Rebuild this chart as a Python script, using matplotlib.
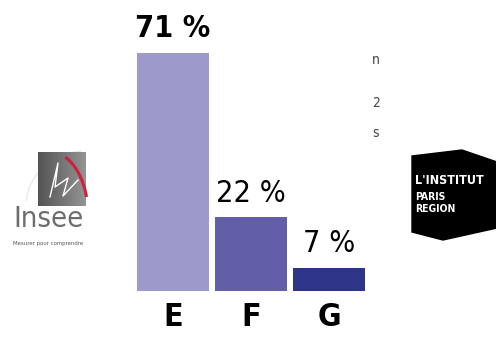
import numpy as np
import matplotlib
matplotlib.use("Agg")
import matplotlib.pyplot as plt
from matplotlib.patches import Polygon, Arc

# --- data ---
categories = ["E", "F", "G"]
shares = [71, 22, 7]
bar_colors = ["#9d9acb", "#625ea8", "#2e3589"]

W, H = 496, 342
fig = plt.figure(figsize=(W / 100, H / 100), dpi=100)
fig.patch.set_facecolor("white")

cond = dict(family="DejaVu Sans", fontstretch="condensed")

# bar chart, placed in pixel units
left, right, base, top = 130, 372, 291, 23
ax = fig.add_axes([left / W, (H - base) / H, (right - left) / W, (base - top) / H])
x = np.arange(len(categories))
ax.bar(x, shares, width=0.92, color=bar_colors)
ax.set_xlim(-0.55, 2.55)
ax.set_ylim(0, 80)
for s in ax.spines.values():
    s.set_visible(False)
ax.set_yticks([])
ax.set_xticks(x)
ax.set_xticklabels(categories, fontsize=23, fontweight="bold", **cond)
ax.tick_params(axis="x", length=0, pad=8)

for i, v in enumerate(shares):
    ax.annotate(f"{v} %", (x[i], v), xytext=(0, 7), textcoords="offset points",
                ha="center", va="bottom", fontsize=22,
                fontweight="bold" if i == 0 else "normal", **cond)

# overlay for the logos and the clipped side text
ov = fig.add_axes([0, 0, 1, 1])
ov.set_xlim(0, W)
ov.set_ylim(H, 0)
ov.axis("off")
ov.patch.set_alpha(0)

# Insee logo
grad = np.linspace(0.33, 0.58, 60)[None, :].repeat(10, axis=0)
ov.imshow(grad, cmap="gray", vmin=0, vmax=1, extent=(38, 86, 206, 152), aspect="auto", zorder=1)
ov.add_patch(Arc((86, 206), 120, 110, theta1=-175, theta2=-95, color="#e8e8e8", lw=1.0, zorder=0))
ov.add_patch(Arc((50, 214), 76, 124, theta1=-75, theta2=-25, color="#d01f3c", lw=2.2, zorder=2))
ov.plot([50, 58, 55, 68, 63, 78], [197, 163, 187, 178, 196, 180], color="white", lw=1.0, zorder=3)
ov.text(48, 219, "Insee", ha="center", va="center", fontsize=21, color="#6d6d6d",
        zorder=3, **cond)
ov.text(48, 243, "Mesurer pour comprendre", ha="center", va="center", fontsize=4.3,
        color="#555555", **cond)

# L'Institut Paris Region logo
ov.add_patch(Polygon([(412, 156), (462, 150), (497, 162), (497, 228), (443, 240), (412, 232)],
                     closed=True, color="black", zorder=1))
ov.text(415, 180, "L'INSTITUT", fontsize=9, fontweight="bold", color="white",
        va="center", ha="left", **cond)
ov.text(415, 197, "PARIS", fontsize=7.5, fontweight="bold", color="white",
        va="center", ha="left", **cond)
ov.text(415, 209, "REGION", fontsize=7.5, fontweight="bold", color="white",
        va="center", ha="left", **cond)

# clipped text at the right of the chart
for ch, yy in [("n", 60), ("2", 103), ("s", 133)]:
    ov.text(372, yy, ch, fontsize=10, color="#444444", va="center", ha="left", **cond)

fig.savefig("out.png", dpi=100)
